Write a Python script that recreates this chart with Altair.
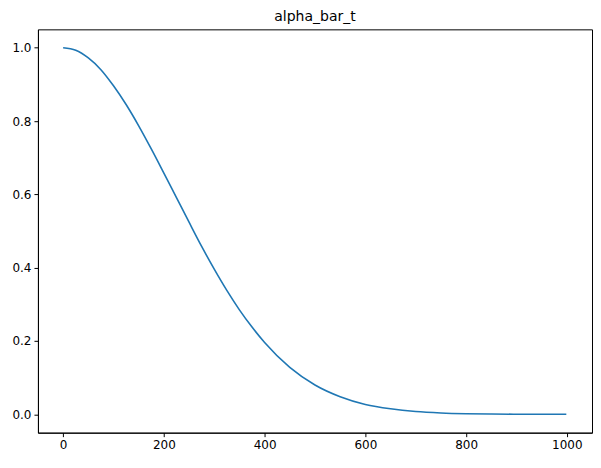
import altair as alt
import pandas as pd

t = [0, 25, 50, 75, 100, 125, 150, 175, 200, 225, 250, 275, 300, 325, 350, 375, 400,
     450, 500, 550, 600, 650, 700, 750, 800, 850, 900, 950, 999]
alpha_bar = [1.0, 0.993, 0.972, 0.940, 0.896, 0.845, 0.787, 0.724, 0.658, 0.591, 0.524,
             0.458, 0.396, 0.338, 0.285, 0.238, 0.196, 0.128, 0.080, 0.048, 0.027,
             0.015, 0.0075, 0.0036, 0.0016, 0.0007, 0.0003, 0.0001, 0.00004]

df = pd.DataFrame({"t": t, "alpha_bar": alpha_bar})

chart = (
    alt.Chart(df)
    .mark_line(color="#1f77b4", strokeWidth=1.6, interpolate="monotone")
    .encode(
        x=alt.X("t:Q", title=None, scale=alt.Scale(domain=[-50, 1050], nice=False, zero=False),
                axis=alt.Axis(values=[0, 200, 400, 600, 800, 1000], format="d", grid=False)),
        y=alt.Y("alpha_bar:Q", title=None, scale=alt.Scale(domain=[-0.05, 1.05], nice=False, zero=False),
                axis=alt.Axis(values=[0, 0.2, 0.4, 0.6, 0.8, 1.0], format=".1f", grid=False)),
    )
    .properties(
        width=555, height=404,
        title=alt.TitleParams("alpha_bar_t", fontSize=14, fontWeight="normal", font="DejaVu Sans", offset=5),
        autosize=alt.AutoSizeParams(type="none"),
        padding={"left": 30, "top": 21, "right": 1, "bottom": 27},
    )
    .configure_view(stroke="black", strokeWidth=1)
    .configure_axis(domainColor="black", tickColor="black", labelColor="black", labelFont="DejaVu Sans",
                    labelFontSize=12, tickSize=4, labelPadding=3)
)

chart.save("out.html", embed_options={"renderer": "svg", "actions": False})
